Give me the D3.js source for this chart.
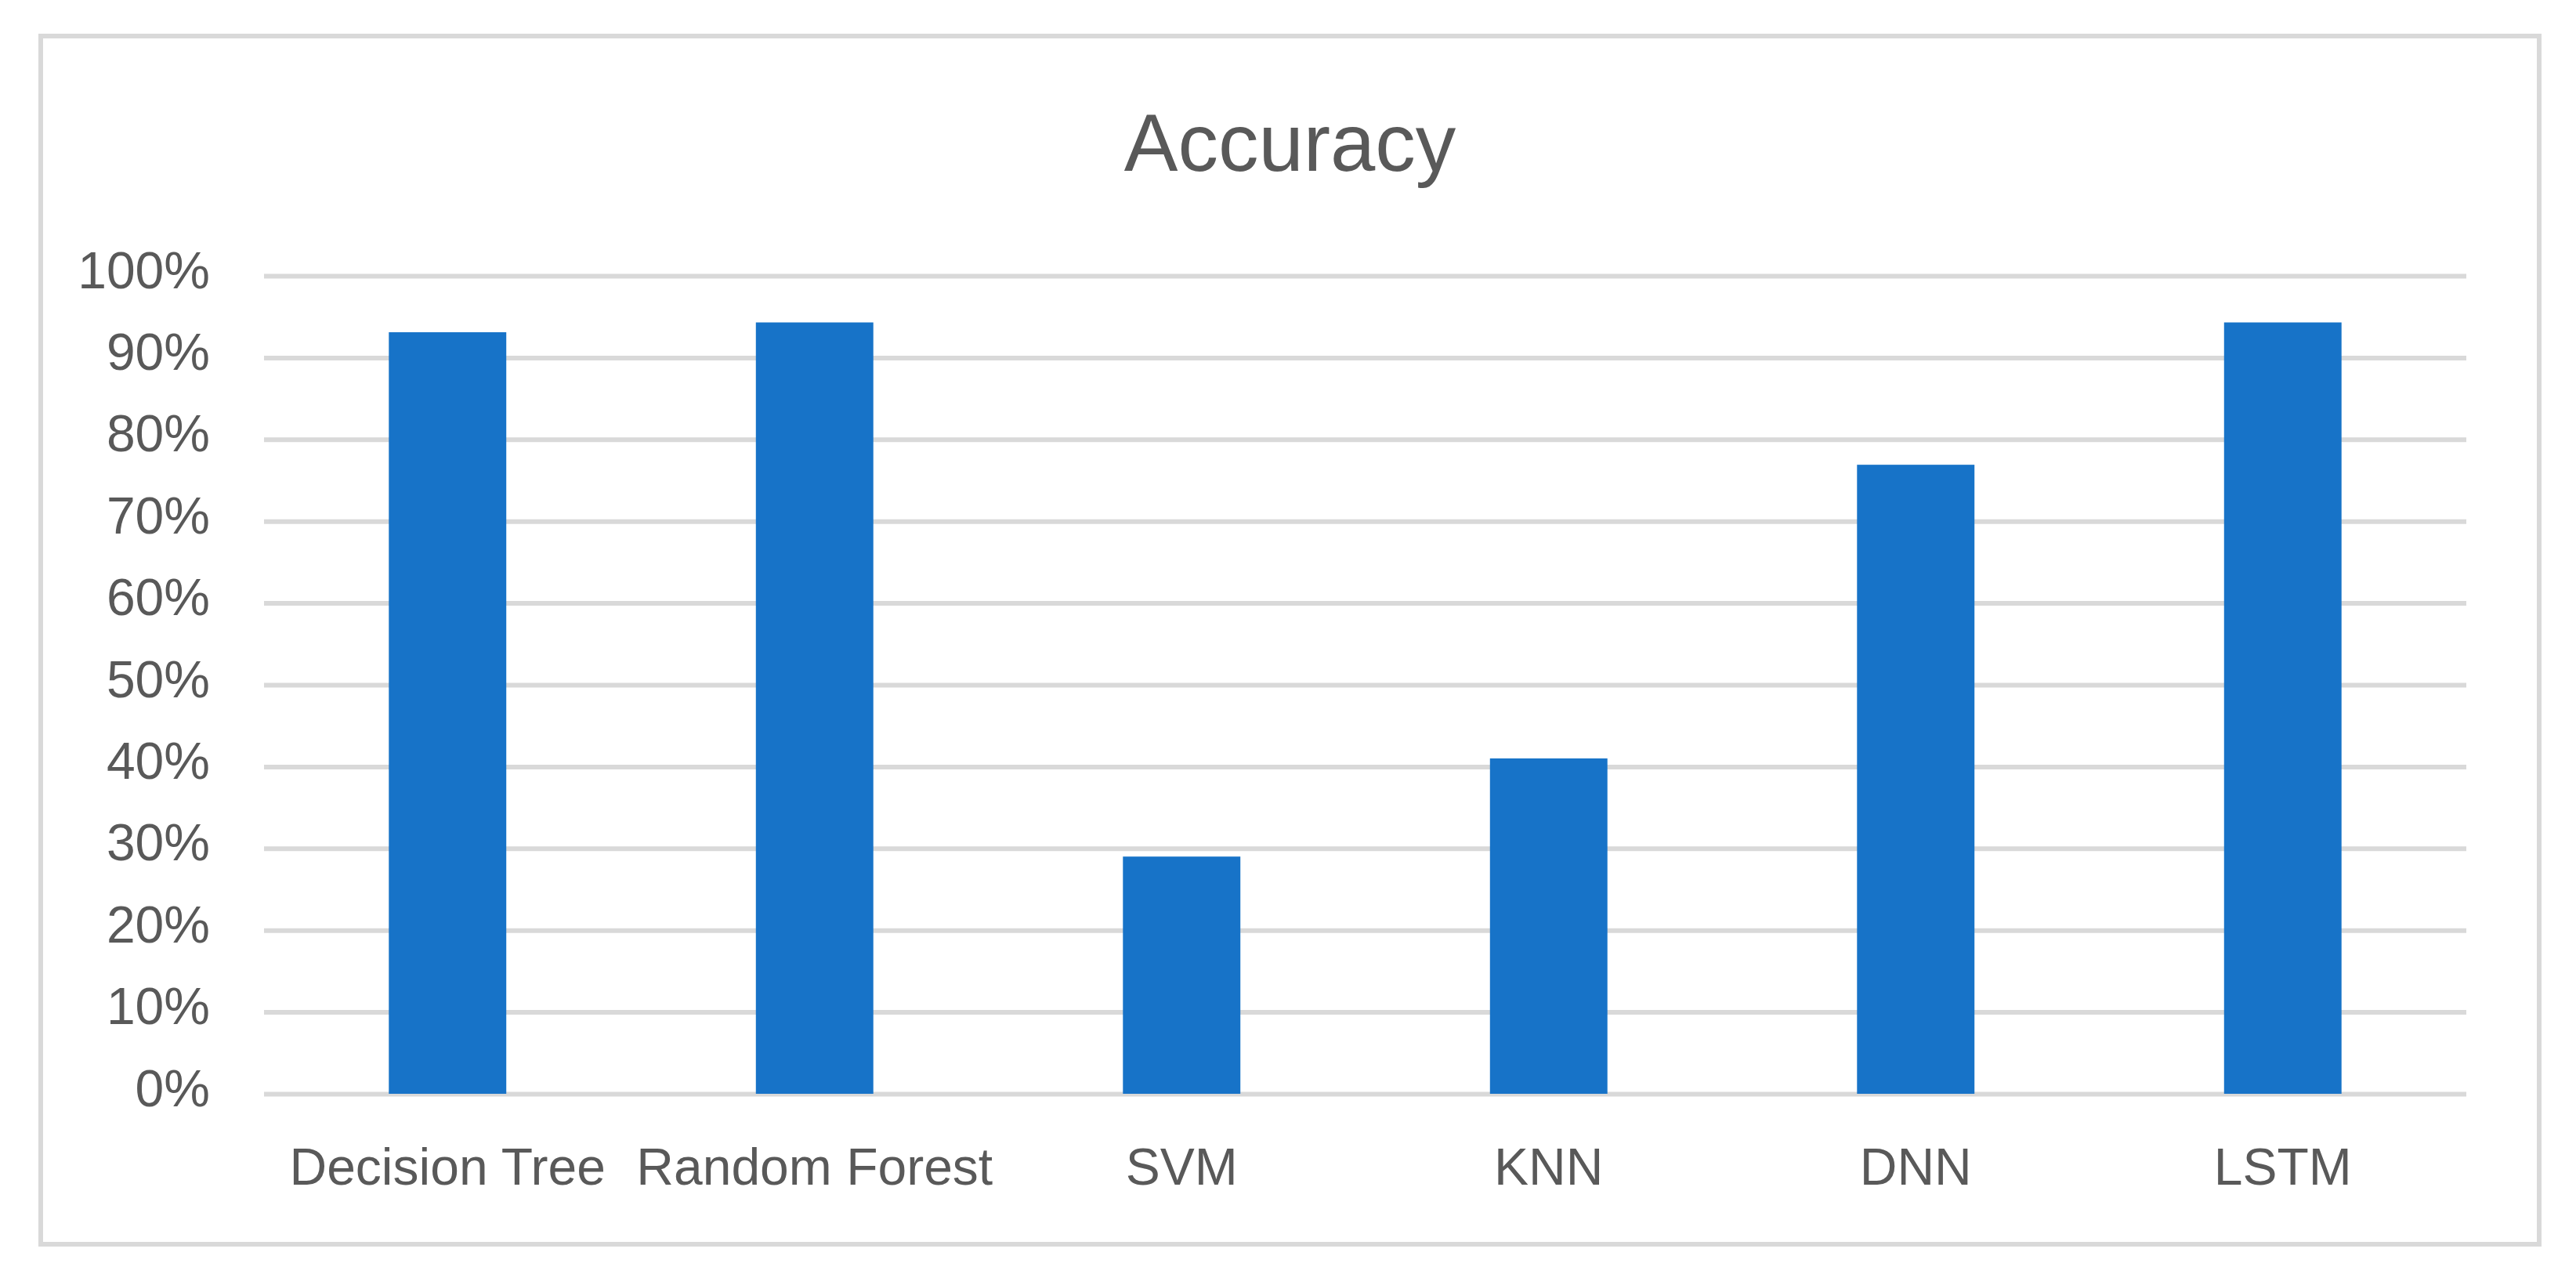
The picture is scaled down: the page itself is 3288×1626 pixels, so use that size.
<!DOCTYPE html>
<html>
<head>
<meta charset="utf-8">
<script src="https://cdn.jsdelivr.net/npm/d3@7"></script>
<style>
  body { margin: 0; background: #fff; }
  text { font-family: "Liberation Sans", Arial, sans-serif; fill: #595959; }
</style>
</head>
<body>
<svg id="chart"></svg>
<script>
// chart data
var categories = ["Decision Tree", "Random Forest", "SVM", "KNN", "DNN", "LSTM"];
var accuracy = [0.931, 0.943, 0.290, 0.410, 0.769, 0.943];
var yTicks = [0, 0.1, 0.2, 0.3, 0.4, 0.5, 0.6, 0.7, 0.8, 0.9, 1.0];
var chartTitle = "Accuracy";

var data = categories.map(function(c, i){ return {label: c, value: accuracy[i]}; });

var W = 3288, H = 1626;
var margin = {top: 352, right: 140, bottom: 230, left: 337},
    width = W - margin.left - margin.right,
    height = H - margin.top - margin.bottom;

var svg = d3.select("#chart")
    .attr("width", W)
    .attr("height", H);

// outer frame
svg.append("rect")
    .attr("x", 52).attr("y", 46)
    .attr("width", 3241 - 52).attr("height", 1588 - 46)
    .attr("fill", "#fff")
    .attr("stroke", "#d9d9d9")
    .attr("stroke-width", 6);

svg.append("text")
    .attr("x", (52 + 3241) / 2)
    .attr("y", 218)
    .attr("text-anchor", "middle")
    .style("font-size", "103px")
    .text(chartTitle);

var g = svg.append("g")
    .attr("transform", "translate(" + margin.left + "," + margin.top + ")");

var y = d3.scaleLinear()
    .domain([0, 1])
    .range([height, 0]);

var x = d3.scaleBand()
    .domain(categories)
    .range([0, width])
    .paddingInner(0.68)
    .paddingOuter(0.34);

// gridlines
var yAxis = d3.axisLeft(y)
    .tickValues(yTicks)
    .tickSize(-width)
    .tickPadding(69)
    .tickFormat(d3.format(".0%"));

var yg = g.append("g")
    .attr("class", "y axis")
    .call(yAxis);
yg.select(".domain").remove();
yg.selectAll(".tick line")
    .attr("stroke", "#d9d9d9")
    .attr("stroke-width", 6);
yg.selectAll(".tick text")
    .attr("dy", "15px")
    .style("font-size", "66px")
    .style("fill", "#595959");

g.selectAll("rect.bar")
    .data(data)
    .enter()
    .append("rect")
    .attr("class", "bar")
    .attr("x", function(d){ return x(d.label); })
    .attr("width", x.bandwidth())
    .attr("y", function(d){ return y(d.value); })
    .attr("height", function(d){ return height - y(d.value); })
    .attr("fill", "#1773c8");

var xAxis = d3.axisBottom(x)
    .tickSize(0)
    .tickPadding(0);

var xg = g.append("g")
    .attr("class", "x axis")
    .attr("transform", "translate(0," + height + ")")
    .call(xAxis);
xg.select(".domain").remove();
xg.selectAll(".tick text")
    .attr("y", 116)
    .attr("dy", 0)
    .style("font-size", "66px")
    .style("fill", "#595959");
</script>
</body>
</html>
